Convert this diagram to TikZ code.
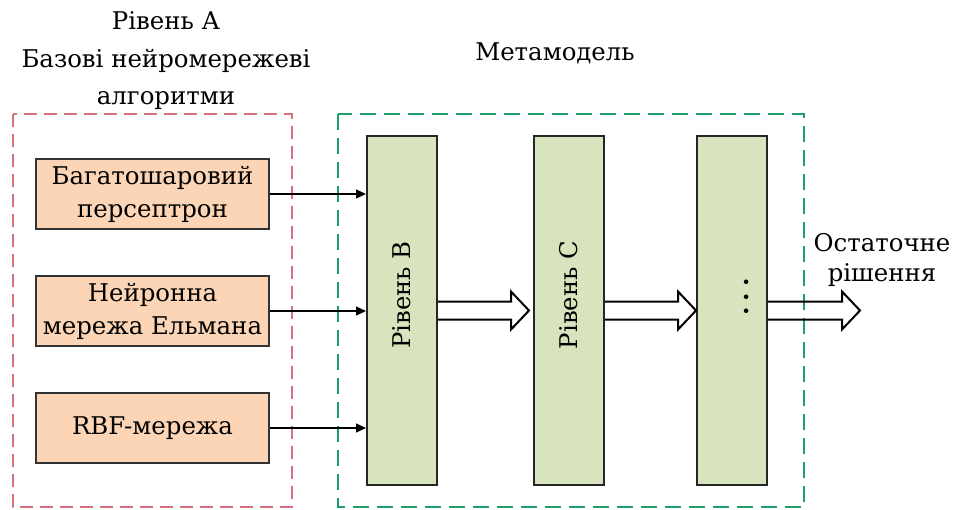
\documentclass[tikz,border=0pt]{standalone}
\usepackage{fontspec}
\setmainfont{DejaVu Serif}
\newfontfamily\diagfont{DejaVu Serif}
\usetikzlibrary{arrows.meta}
\usetikzlibrary{calc}
\definecolor{boxorange}{HTML}{FBD5B5}
\definecolor{barolive}{HTML}{D7E4BD}
\definecolor{dashred}{HTML}{D9707F}
\definecolor{dashgreen}{HTML}{1F9E6A}
\tikzset{
    algbox/.style={draw=black!80,fill=boxorange,line width=0.9pt,minimum width=116.5pt,minimum height=35pt,align=center,font=\diagfont\fontsize{12.2}{16.5}\selectfont},
    levelbar/.style={draw=black!85,fill=barolive,line width=1pt,minimum width=35pt,minimum height=174.5pt},
    link/.style={-{Triangle[length=5pt,width=4.5pt]},line width=0.6pt},
    fatarrow/.style={line width=1pt},
}
\newcommand{\hollowarrow}[2]{%
    \draw[fatarrow] ($(#1.east)+(0,-9)$) -- ($(#2)+(-18,-9)$) -- ($(#2)+(-18,-19)$) -- (#2) -- ($(#2)+(-18,19)$) -- ($(#2)+(-18,9)$) -- ($(#1.east)+(0,9)$);}
\begin{document}
\begin{tikzpicture}[x=0.5pt,y=-0.5pt,font=\diagfont\fontsize{12.2}{18.75}\selectfont]
    	\useasboundingbox (0,0) rectangle (956,509);

    	\draw[dashred,dash pattern=on 6.5pt off 3.5pt,line width=1.1pt] (13,114) rectangle (292,507);
    	\draw[dashgreen,dash pattern=on 8pt off 4pt,line width=1.1pt] (338,114) rectangle (804,507);

    	\node[align=center] (levelA) at (166,61) {Рівень А\\Базові нейромережеві\\алгоритми};
    	\node (meta) at (555,53) {Метамодель};

    	\node[algbox] (mlp) at (152.5,194) {Багатошаровий\\персептрон};
    	\node[algbox] (elman) at (152.5,311) {Нейронна\\мережа Ельмана};
    	\node[algbox] (rbf) at (152.5,428) {RBF-мережа};

    	\node[levelbar] (barB) at (402,310.5) {};
    	\node[levelbar] (barC) at (569,310.5) {};
    	\node[levelbar] (barD) at (732,310.5) {};
    	\node[rotate=90] (labB) at (402,295) {Рівень В};
    	\node[rotate=90] (labC) at (569,295) {Рівень С};
    	\node[rotate=90,font=\diagfont\bfseries\fontsize{12.2}{15}\selectfont] (labD) at (747,297) {.\kern3pt.\kern3pt.};

    	\draw[link] (mlp.east) -- (mlp.east -| barB.west);
    	\draw[link] (elman.east) -- (elman.east -| barB.west);
    	\draw[link] (rbf.east) -- (rbf.east -| barB.west);

    	\coordinate (tipC) at ($(barC.west)+(-4,0)$);
    	\coordinate (tipD) at (barD.west);
    	\coordinate (tipOut) at (860,310.5);
    	\hollowarrow{barB}{tipC}
    	\hollowarrow{barC}{tipD}
    	\hollowarrow{barD}{tipOut}

    	\node[align=center,font=\diagfont\fontsize{12.2}{15}\selectfont] (final) at (882,260) {Остаточне\\рішення};
    \end{tikzpicture}
\end{document}
